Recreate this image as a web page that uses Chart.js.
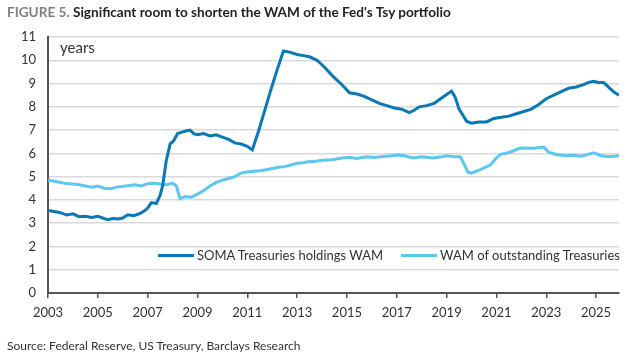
<!DOCTYPE html>
<html>
<head>
<meta charset="utf-8">
<script src="https://cdn.jsdelivr.net/npm/chart.js@4"></script>
<style>
  body { margin: 0; background: #fff; font-family: Lato, sans-serif; }
  #wrap { position: relative; width: 639px; height: 360px; }
  #title { position: absolute; left: 7px; top: 4px; font-size: 13.6px; font-weight: bold; color: #222; white-space: nowrap; }
  #title span { color: #808080; }
  #source { position: absolute; left: 7px; top: 338px; font-size: 12px; color: #333; }
  #units { position: absolute; left: 60px; top: 38px; font-size: 15px; color: #333; }
  #legend { position: absolute; left: 158px; top: 247px; font-size: 13px; color: #333; display: flex; }
  .item { display: flex; align-items: center; margin-right: 18px; }
  .swatch { width: 36px; height: 3px; margin-right: 3px; }
  canvas { position: absolute; left: 0; top: 0; }
</style>
</head>
<body>
<div id="wrap">
  <canvas id="chart" width="639" height="360"></canvas>
  <div id="title"><span>FIGURE 5.</span> Significant room to shorten the WAM of the Fed's Tsy portfolio</div>
  <div id="units">years</div>
  <div id="legend"></div>
  <div id="source">Source: Federal Reserve, US Treasury, Barclays Research</div>
</div>
<script>
const tickYears = [2003, 2005, 2007, 2009, 2011, 2013, 2015, 2017, 2019, 2021, 2023, 2025];

const somaLabel = "SOMA Treasuries holdings WAM";
const somaYears = [2003.0, 2003.25, 2003.5, 2003.75, 2004.0, 2004.25, 2004.5, 2004.75, 2005.0, 2005.25, 2005.4, 2005.6, 2005.8, 2006.0, 2006.2, 2006.45, 2006.7, 2006.9, 2007.0, 2007.15, 2007.35, 2007.5, 2007.6, 2007.75, 2007.9, 2008.05, 2008.2, 2008.35, 2008.5, 2008.7, 2008.85, 2009.0, 2009.25, 2009.5, 2009.75, 2010.0, 2010.25, 2010.5, 2010.75, 2011.0, 2011.2, 2011.45, 2011.7, 2011.95, 2012.2, 2012.45, 2012.7, 2013.0, 2013.25, 2013.5, 2013.8, 2014.1, 2014.45, 2014.8, 2015.1, 2015.4, 2015.7, 2016.0, 2016.3, 2016.6, 2016.9, 2017.2, 2017.5, 2017.7, 2017.9, 2018.2, 2018.5, 2018.7, 2018.9, 2019.1, 2019.2, 2019.35, 2019.5, 2019.65, 2019.8, 2020.0, 2020.3, 2020.6, 2020.9, 2021.2, 2021.5, 2021.8, 2022.1, 2022.4, 2022.7, 2023.0, 2023.3, 2023.6, 2023.9, 2024.2, 2024.5, 2024.7, 2024.9, 2025.1, 2025.3, 2025.5, 2025.7, 2025.92];
const somaWam = [3.55, 3.5, 3.45, 3.35, 3.4, 3.28, 3.3, 3.25, 3.3, 3.2, 3.15, 3.2, 3.18, 3.22, 3.36, 3.32, 3.42, 3.55, 3.65, 3.88, 3.85, 4.2, 4.6, 5.7, 6.4, 6.55, 6.85, 6.9, 6.95, 7.0, 6.85, 6.8, 6.85, 6.75, 6.8, 6.7, 6.6, 6.45, 6.4, 6.3, 6.15, 6.95, 7.85, 8.75, 9.6, 10.4, 10.35, 10.25, 10.2, 10.15, 10.0, 9.7, 9.3, 8.95, 8.6, 8.55, 8.45, 8.3, 8.15, 8.05, 7.95, 7.9, 7.75, 7.85, 8.0, 8.05, 8.15, 8.3, 8.45, 8.6, 8.67, 8.4, 7.9, 7.65, 7.38, 7.3, 7.35, 7.35, 7.5, 7.55, 7.6, 7.7, 7.8, 7.9, 8.1, 8.35, 8.5, 8.65, 8.8, 8.85, 8.95, 9.05, 9.1, 9.05, 9.05, 8.85, 8.65, 8.5];

const outLabel = "WAM of outstanding Treasuries";
const outYears = [2003.0, 2003.25, 2003.5, 2003.75, 2004.0, 2004.25, 2004.5, 2004.75, 2005.0, 2005.25, 2005.5, 2005.75, 2006.0, 2006.25, 2006.5, 2006.75, 2007.0, 2007.25, 2007.5, 2007.75, 2008.0, 2008.15, 2008.3, 2008.5, 2008.75, 2009.0, 2009.25, 2009.5, 2009.75, 2010.0, 2010.25, 2010.5, 2010.75, 2011.0, 2011.25, 2011.5, 2011.75, 2012.0, 2012.25, 2012.5, 2012.75, 2013.0, 2013.25, 2013.5, 2013.75, 2014.0, 2014.4, 2014.8, 2015.1, 2015.4, 2015.8, 2016.1, 2016.45, 2016.8, 2017.0, 2017.3, 2017.65, 2018.0, 2018.45, 2018.8, 2019.0, 2019.3, 2019.55, 2019.7, 2019.85, 2020.0, 2020.35, 2020.75, 2021.0, 2021.15, 2021.55, 2021.95, 2022.5, 2022.9, 2023.1, 2023.4, 2023.8, 2024.1, 2024.4, 2024.9, 2025.2, 2025.5, 2025.92];
const outWam = [4.85, 4.8, 4.75, 4.7, 4.68, 4.65, 4.6, 4.55, 4.6, 4.5, 4.48, 4.55, 4.58, 4.62, 4.65, 4.6, 4.7, 4.72, 4.68, 4.65, 4.72, 4.6, 4.05, 4.15, 4.12, 4.25, 4.4, 4.6, 4.75, 4.85, 4.92, 5.0, 5.15, 5.2, 5.23, 5.25, 5.3, 5.35, 5.4, 5.43, 5.5, 5.58, 5.6, 5.65, 5.66, 5.7, 5.73, 5.8, 5.83, 5.78, 5.85, 5.82, 5.87, 5.9, 5.93, 5.9, 5.8, 5.85, 5.8, 5.85, 5.9, 5.85, 5.85, 5.55, 5.2, 5.15, 5.3, 5.5, 5.8, 5.95, 6.05, 6.23, 6.22, 6.27, 6.05, 5.95, 5.9, 5.92, 5.88, 6.02, 5.9, 5.85, 5.9];

const somaColor = "#0a78b5";
const outColor = "#5cc8f0";

function toPoints(xs, ys) {
  return xs.map((x, i) => ({ x: x, y: ys[i] }));
}

const tickFont = { family: "Lato", size: 13 };

new Chart(document.getElementById("chart").getContext("2d"), {
  type: "line",
  data: {
    datasets: [
      { label: somaLabel, data: toPoints(somaYears, somaWam), borderColor: somaColor, backgroundColor: somaColor, borderWidth: 3, pointRadius: 0, tension: 0 },
      { label: outLabel, data: toPoints(outYears, outWam), borderColor: outColor, backgroundColor: outColor, borderWidth: 3, pointRadius: 0, tension: 0 },
    ],
  },
  options: {
    responsive: false,
    animation: false,
    layout: { padding: { top: 37, right: 20, left: 0, bottom: 0 } },
    plugins: { legend: { display: false }, title: { display: false }, tooltip: { enabled: false } },
    scales: {
      x: {
        type: "linear",
        min: 2003,
        max: 2025.92,
        afterBuildTicks: (scale) => { scale.ticks = tickYears.map((v) => ({ value: v })); },
        afterFit: (scale) => { scale.height = 67; },
        border: { color: "#555", width: 2 },
        grid: { drawOnChartArea: false, drawTicks: true, tickLength: 5, color: "#555", lineWidth: 1.5 },
        ticks: { color: "#333", font: tickFont, padding: 7, maxRotation: 0, autoSkip: false, callback: (v) => String(v) },
      },
      y: {
        min: 0,
        max: 11,
        afterFit: (scale) => { scale.width = 48; },
        border: { color: "#555", width: 2 },
        grid: { color: "#d9d9d9", lineWidth: 1.5, drawTicks: false },
        ticks: { stepSize: 1, color: "#333", font: tickFont, padding: 12 },
      },
    },
  },
});

// legend inside plot area
const legend = document.getElementById("legend");
[[somaLabel, somaColor], [outLabel, outColor]].forEach(([label, color]) => {
  const item = document.createElement("div");
  item.className = "item";
  item.innerHTML = '<div class="swatch" style="background:' + color + '"></div>' + label;
  legend.appendChild(item);
});
</script>
</body>
</html>
